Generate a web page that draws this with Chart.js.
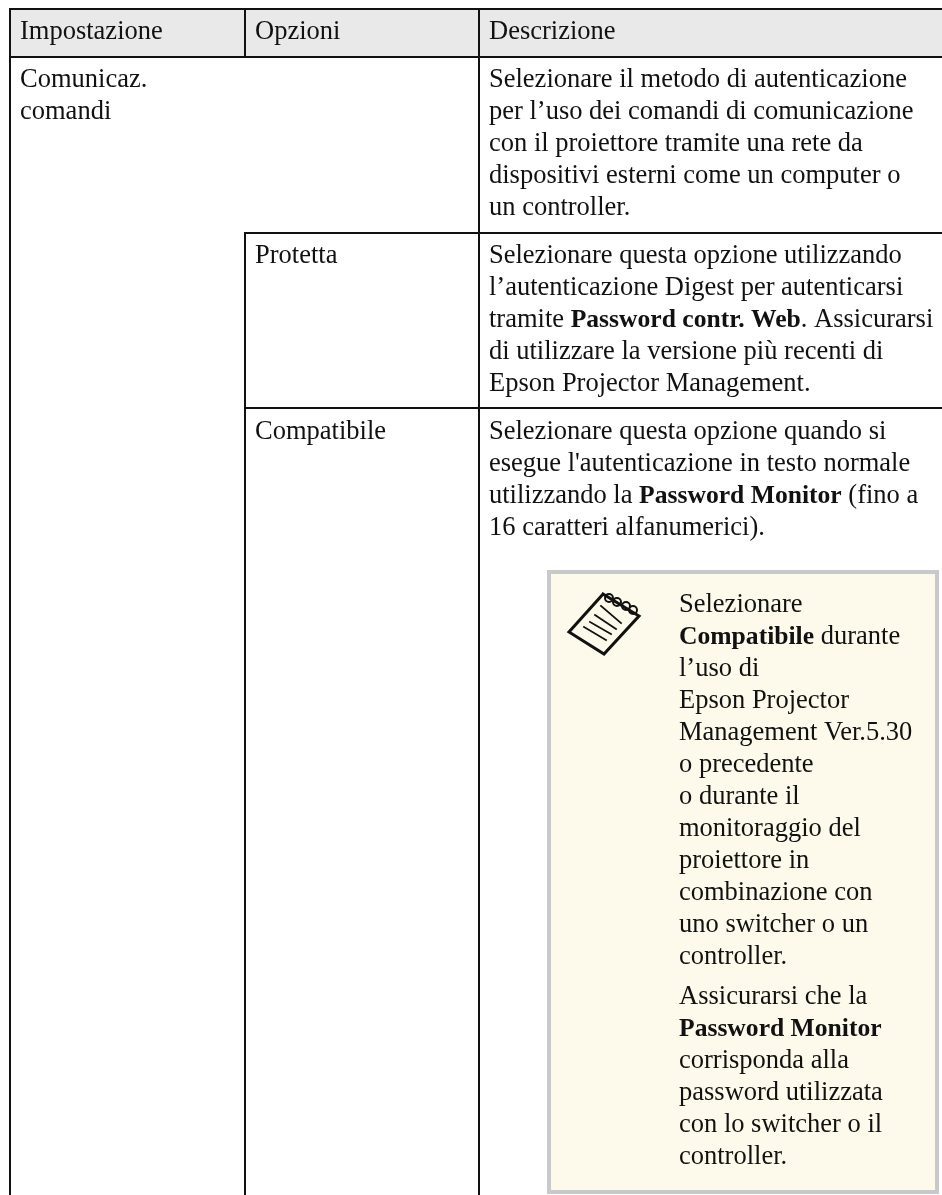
<!DOCTYPE html>
<html>
<head>
<meta charset="utf-8">
<title>Impostazione</title>
<script src="https://cdn.jsdelivr.net/npm/chart.js@4"></script>
<style>
  html, body { margin: 0; padding: 0; background: #fff; }
  canvas { display: block; }
</style>
</head>
<body>
<canvas id="myChart" width="942" height="1195"></canvas>
<script>
// testo della tabella, ** = grassetto
const intestazioni = ["Impostazione", "Opzioni", "Descrizione"];
const impostazione = ["Comunicaz.", "comandi"];
const opzioni = ["Protetta", "Compatibile"];
const descrizioneComandi = [
    "Selezionare il metodo di autenticazione",
    "per l’uso dei comandi di comunicazione",
    "con il proiettore tramite una rete da",
    "dispositivi esterni come un computer o",
    "un controller."
];
const descrizioneProtetta = [
    "Selezionare questa opzione utilizzando",
    "l’autenticazione Digest per autenticarsi",
    "tramite **Password contr. Web**. Assicurarsi",
    "di utilizzare la versione più recenti di",
    "Epson Projector Management."
];
const descrizioneCompatibile = [
    "Selezionare questa opzione quando si",
    "esegue l'autenticazione in testo normale",
    "utilizzando la **Password Monitor** (fino a",
    "16 caratteri alfanumerici)."
];
const nota1 = [
    "Selezionare",
    "**Compatibile** durante",
    "l’uso di",
    "Epson Projector",
    "Management Ver.5.30",
    "o precedente",
    "o durante il",
    "monitoraggio del",
    "proiettore in",
    "combinazione con",
    "uno switcher o un",
    "controller."
];
const nota2 = [
    "Assicurarsi che la",
    "**Password Monitor**",
    "corrisponda alla",
    "password utilizzata",
    "con lo switcher o il",
    "controller."
];

// linee della griglia: x1, y1, x2, y2 sulle scale
const righe = [
    [10, 9, 942, 9], [10, 57, 942, 57], [245, 233, 942, 233], [245, 408, 942, 408],
    [10, 9, 10, 1195], [245, 9, 245, 57], [245, 233, 245, 1195], [479, 9, 479, 1195]
];
const sfondoIntestazione = [[10, 9], [942, 9]];
const sfondoNota = [[549, 572], [937, 572]];
const bordoNota = [[549, 572], [937, 572], [937, 1192], [549, 1192], [549, 572]];

// icona del blocco note
const bloccoNota = [[603, 594], [639, 616], [604, 654], [569, 632], [603, 594]];
const bloccoRighe = [
    [[601, 606], [621, 623]], [[595, 615], [616, 629]],
    [[590, 622], [611, 634]], [[584, 627], [606, 640]]
];
const bloccoSpirale = [[609, 598], [617, 602], [626, 606], [633, 610]];

const nero = "#111111";
const font = "Liberation Serif";
const corpo = 26.5;
const corpoGrassetto = 25.6;
const interlinea = 32;

const puntiDa = (lista) => lista.map((p) => ({ x: p[0], y: p[1] }));

function linea(punti, colore, spessore) {
    return {
        type: "scatter",
        data: puntiDa(punti),
        showLine: true,
        fill: false,
        borderColor: colore,
        borderWidth: spessore,
        borderCapStyle: "square",
        pointRadius: 0,
        tension: 0
    };
}

function banda(punti, colore, finoA) {
    return {
        type: "scatter",
        data: puntiDa(punti),
        showLine: true,
        borderWidth: 0,
        borderColor: "transparent",
        backgroundColor: colore,
        fill: { value: finoA },
        pointRadius: 0
    };
}

// chart.js disegna i dataset dall'ultimo al primo: prima quello che sta sopra
const datasets = [];
datasets.push({
    type: "scatter",
    data: puntiDa(bloccoSpirale),
    showLine: false,
    pointStyle: "circle",
    pointRadius: 4,
    pointBorderWidth: 2,
    pointBorderColor: nero,
    pointBackgroundColor: "transparent"
});
bloccoRighe.forEach((r) => datasets.push(linea(r, nero, 1.8)));
datasets.push(linea(bloccoNota, nero, 3));
righe.forEach((r) => datasets.push(linea([[r[0], r[1]], [r[2], r[3]]], nero, 2)));
datasets.push(linea(bordoNota, "#c8c9ca", 4));
datasets.push(banda(sfondoNota, "#fefaeb", 1192));
datasets.push(banda(sfondoIntestazione, "#e9e9e9", 57));

// blocchi di testo: x, prima linea di base, righe
const blocchi = [
    [20, 39, [intestazioni[0]]],
    [255, 39, [intestazioni[1]]],
    [489, 39, [intestazioni[2]]],
    [20, 87, impostazione],
    [255, 263, [opzioni[0]]],
    [255, 439, [opzioni[1]]],
    [489, 87, descrizioneComandi],
    [489, 263, descrizioneProtetta],
    [489, 439, descrizioneCompatibile],
    [679, 612, nota1],
    [679, 1004, nota2]
];

const testoTabella = {
    id: "testoTabella",
    afterDatasetsDraw(chart) {
        const ctx = chart.ctx;
        const sx = chart.scales.x;
        const sy = chart.scales.y;
        ctx.save();
        ctx.fillStyle = nero;
        ctx.textBaseline = "alphabetic";
        ctx.textAlign = "left";
        for (const [x, base, testo] of blocchi) {
            testo.forEach((riga, i) => {
                let px = sx.getPixelForValue(x);
                const py = sy.getPixelForValue(base + i * interlinea);
                riga.split("**").forEach((pezzo, j) => {
                    ctx.font = j % 2 ? "bold " + corpoGrassetto + 'px "' + font + '"' : corpo + 'px "' + font + '"';
                    ctx.fillText(pezzo, px, py);
                    px += ctx.measureText(pezzo).width;
                });
            });
        }
        ctx.restore();
    }
};

new Chart(document.getElementById("myChart"), {
    type: "scatter",
    data: { datasets: datasets },
    plugins: [testoTabella],
    options: {
        responsive: false,
        animation: false,
        layout: { padding: 0, autoPadding: false },
        plugins: { legend: { display: false }, tooltip: { enabled: false } },
        scales: {
            x: { type: "linear", min: 0, max: 942, display: false },
            y: { type: "linear", min: 0, max: 1195, reverse: true, display: false }
        }
    }
});
</script>
</body>
</html>
